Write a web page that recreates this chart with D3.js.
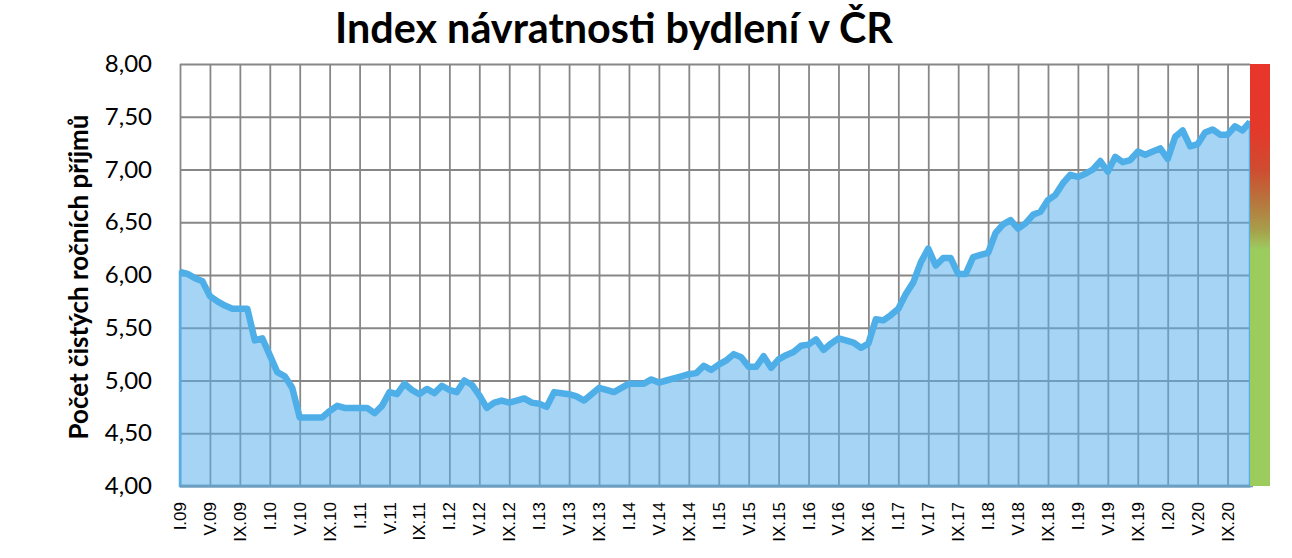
<!DOCTYPE html>
<html>
<head>
<meta charset="utf-8">
<script src="https://cdn.jsdelivr.net/npm/d3@7"></script>
<style>
  html, body { margin: 0; padding: 0; background: #fff; }
  svg { display: block; }
</style>
</head>
<body>
<svg id="chart" width="1292" height="558"></svg>
<script>
// ---- data ----
const title = "Index návratnosti bydlení v ČR";
const yAxisTitle = "Počet čistých ročních příjmů";
const monthNames = ["I","II","III","IV","V","VI","VII","VIII","IX","X","XI","XII"];
const years = ["09","10","11","12","13","14","15","16","17","18","19","20"];
const categories = years.flatMap(y => monthNames.map(m => m + "." + y));
const values = [
  6.03, 6.01, 5.97, 5.94, 5.80, 5.75, 5.71, 5.68, 5.68, 5.68, 5.38, 5.40,
  5.24, 5.08, 5.04, 4.93, 4.65, 4.65, 4.65, 4.65, 4.71, 4.76, 4.74, 4.74,
  4.74, 4.74, 4.69, 4.76, 4.89, 4.87, 4.97, 4.91, 4.87, 4.92, 4.88, 4.95,
  4.91, 4.89, 5.00, 4.96, 4.86, 4.74, 4.79, 4.81, 4.79, 4.81, 4.83, 4.79,
  4.78, 4.75, 4.89, 4.88, 4.87, 4.85, 4.81, 4.87, 4.93, 4.91, 4.89, 4.93,
  4.97, 4.97, 4.97, 5.01, 4.98, 5.00, 5.02, 5.04, 5.06, 5.07, 5.14, 5.10,
  5.15, 5.19, 5.25, 5.22, 5.13, 5.13, 5.23, 5.12, 5.20, 5.24, 5.27, 5.33,
  5.34, 5.39, 5.29, 5.35, 5.40, 5.38, 5.36, 5.31, 5.35, 5.58, 5.57, 5.62,
  5.68, 5.82, 5.93, 6.12, 6.25, 6.09, 6.16, 6.16, 6.01, 6.01, 6.17, 6.19,
  6.21, 6.40, 6.48, 6.52, 6.44, 6.49, 6.57, 6.60, 6.71, 6.76, 6.87, 6.95,
  6.93, 6.96, 7.00, 7.08, 6.98, 7.12, 7.07, 7.09, 7.17, 7.14, 7.17, 7.20,
  7.10, 7.31, 7.37, 7.22, 7.24, 7.35, 7.38, 7.33, 7.33, 7.41, 7.37, 7.45
];
const yTicks = [4, 4.5, 5, 5.5, 6, 6.5, 7, 7.5, 8];
const xTickLabels = categories.filter((c, i) => i % 4 === 0);
const gaugeStops = [
  {offset: 0.00, color: "#E8362A"},
  {offset: 0.16, color: "#E3392A"},
  {offset: 0.25, color: "#CF4C30"},
  {offset: 0.32, color: "#B8723C"},
  {offset: 0.39, color: "#A89C4A"},
  {offset: 0.44, color: "#9CCB5E"},
  {offset: 1.00, color: "#9CCB5E"}
];

// ---- layout ----
const svg = d3.select("#chart");
const L = 180, R = 1250, T = 64, B = 486;
const x = d3.scalePoint().domain(categories).range([L, R]);
const y = d3.scaleLinear().domain([4, 8]).range([B, T]);
const czLocale = d3.formatLocale({decimal: ",", thousands: " ", grouping: [3], currency: ["", " Kč"]});
const fmt = czLocale.format(".2f");

const gridColor = "#878787";

// horizontal grid
svg.append("g")
  .attr("transform", `translate(${L},0)`)
  .call(d3.axisLeft(y).tickValues(yTicks).tickSize(-(R - L)).tickFormat(""))
  .call(g => g.select(".domain").remove())
  .selectAll("line").attr("stroke", gridColor).attr("stroke-width", 1.8);

// vertical grid
svg.append("g")
  .attr("transform", `translate(0,${T})`)
  .call(d3.axisBottom(x).tickValues(xTickLabels).tickSize(B - T).tickFormat(""))
  .call(g => g.select(".domain").remove())
  .selectAll("line").attr("stroke", gridColor).attr("stroke-width", 1.8);

// area (translucent over grid)
const area = d3.area()
  .x((d, i) => x(categories[i]))
  .y0(y(4))
  .y1(d => y(d));
svg.append("path")
  .datum(values)
  .attr("d", area)
  .attr("fill", "rgb(88,176,236)")
  .attr("fill-opacity", 0.54)
  .attr("stroke", "#55AEE6")
  .attr("stroke-width", 2.5);

// bottom axis line
svg.append("line")
  .attr("x1", L).attr("x2", R + 3)
  .attr("y1", y(4)).attr("y2", y(4))
  .attr("stroke", "#6A9FC4").attr("stroke-width", 2.5);

// line
const line = d3.line()
  .x((d, i) => x(categories[i]))
  .y(d => y(d));
svg.append("path")
  .datum(values)
  .attr("d", line)
  .attr("fill", "none")
  .attr("stroke", "#4EAEE8")
  .attr("stroke-width", 6.5)
  .attr("stroke-linejoin", "round")
  .attr("stroke-linecap", "butt");

// gauge bar
const defs = svg.append("defs");
const grad = defs.append("linearGradient").attr("id", "gauge")
  .attr("x1", 0).attr("x2", 0).attr("y1", 0).attr("y2", 1);
grad.selectAll("stop").data(gaugeStops).join("stop")
  .attr("offset", d => d.offset).attr("stop-color", d => d.color);
svg.append("rect")
  .attr("x", R).attr("y", y(8))
  .attr("width", 20).attr("height", y(4) - y(8))
  .attr("fill", "url(#gauge)");

// y axis labels
svg.append("g")
  .attr("transform", `translate(${L},0)`)
  .call(d3.axisLeft(y).tickValues(yTicks).tickSize(0).tickPadding(28).tickFormat(fmt))
  .call(g => g.select(".domain").remove())
  .selectAll("text")
  .style("font-family", "Lato, 'Open Sans', sans-serif")
  .style("font-size", "24px")
  .attr("fill", "#000");

// x axis labels (own text elements placed by the scale)
svg.append("g").selectAll("text")
  .data(xTickLabels)
  .join("text")
  .attr("transform", d => `translate(${x(d) + 6},502) rotate(-90)`)
  .attr("text-anchor", "end")
  .attr("font-family", "Liberation Sans, Arial, sans-serif")
  .attr("font-size", 17)
  .attr("fill", "#000")
  .text(d => d);

// title
const t = svg.append("text")
  .attr("x", 614).attr("y", 43)
  .attr("text-anchor", "middle")
  .attr("font-family", "Lato, 'Open Sans', sans-serif")
  .attr("font-weight", "bold")
  .attr("font-size", 40)
  .attr("fill", "#000")
  .text(title);
const tw = t.node().getComputedTextLength();
t.attr("font-size", 40 * 558 / tw);

// y axis title
const yt = svg.append("text")
  .attr("transform", "translate(88,277) rotate(-90)")
  .attr("text-anchor", "middle")
  .attr("font-family", "Lato, 'Open Sans', sans-serif")
  .attr("font-weight", "bold")
  .attr("font-size", 22)
  .attr("fill", "#000")
  .text(yAxisTitle);
const yw = yt.node().getComputedTextLength();
yt.attr("font-size", 22 * 325 / yw);
</script>
</body>
</html>
